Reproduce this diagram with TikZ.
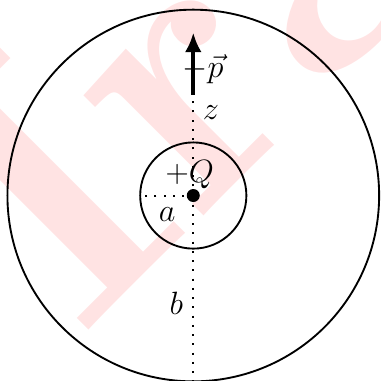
\documentclass[tikz,border=0pt]{standalone}
\usetikzlibrary{arrows.meta}
\tikzset{
  ring/.style={draw, line width=1pt, circle, inner sep=0pt},
  dotline/.style={line width=1.05pt, dash pattern=on 1.05pt off 3.9pt},
  lbl/.style={inner sep=0pt, font=\LARGE},
  wmark/.style={rotate=45, anchor=base west, inner sep=0pt, text=red!11,
    font=\fontsize{206}{206}\selectfont\bfseries},
}
\begin{document}
\begin{tikzpicture}
\useasboundingbox (-3.640,-3.475) rectangle (3.535,3.682);
% watermark
\node[wmark] (wm) at (-2.132,-2.706) {Ira};
% geometry
\coordinate (O) at (0,0);
\node[ring, minimum size=7cm] (outer) at (O) {};
\node[ring, minimum size=2cm] (inner) at (O) {};
\coordinate (pbot) at (0,1.9);
\coordinate (ptop) at (0,3.07);
\coordinate (zb) at (0,1.84);
\coordinate (bb) at (0,-3.7);
\draw[dotline] (O) -- (zb);
\draw[dotline] (O) -- (bb);
\draw[dotline] (O) -- (inner.west);
\node[circle, fill, inner sep=0pt, minimum size=0.245cm] (dot) at (O) {};
\draw[line width=2.1pt, -{Latex[length=10.5pt,width=9pt]}] (pbot) -- (ptop);
% labels
\node[lbl, anchor=base west] (p) at (-0.211,2.22) {$-\vec{p}$};
\node[lbl, anchor=base] (z) at (0.33,1.431) {$z$};
\node[lbl, anchor=base] (Q) at (-0.066,0.245) {$+Q$};
\node[lbl, anchor=base] (a) at (-0.49,-0.49) {$a$};
\node[lbl, anchor=base] (b) at (-0.32,-2.241) {$b$};
\end{tikzpicture}
\end{document}
